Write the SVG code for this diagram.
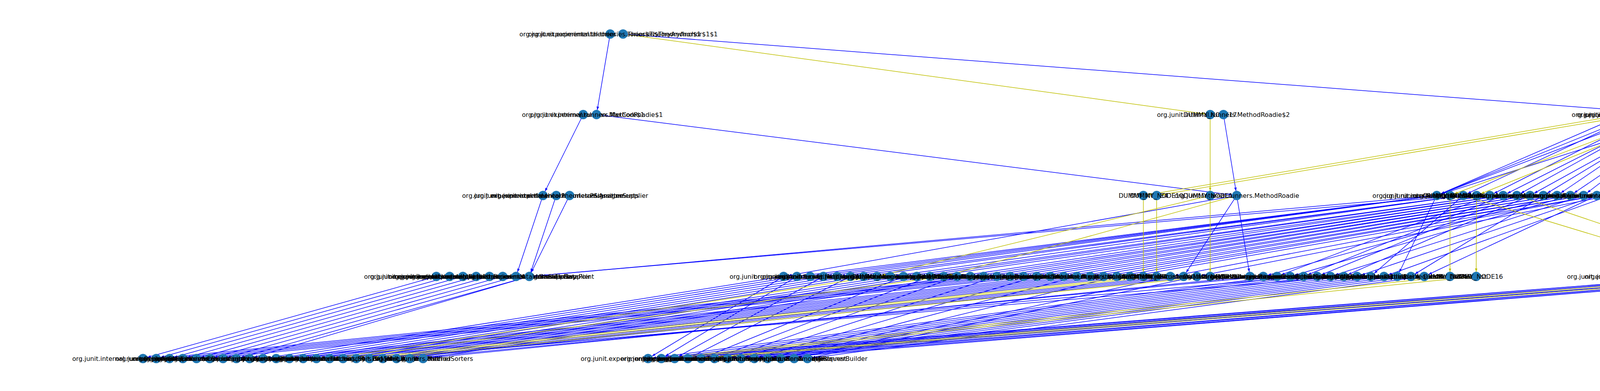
<svg xmlns="http://www.w3.org/2000/svg" width="5000" height="1000" viewBox="0 0 5000 1000">
<defs>
<style>
.n circle{fill:#1f78b4}
.n text{font-family:"DejaVu Sans","Liberation Sans",sans-serif;font-size:16px;fill:#000;text-anchor:middle;dominant-baseline:central}
.e line{stroke-width:1.5;fill:none}
.b{stroke:#0000ff;marker-end:url(#mb)}
.y{stroke:#bfbf00;marker-end:url(#my)}
</style>
<marker id="mb" markerUnits="userSpaceOnUse" viewBox="0 0 30 10" markerWidth="30" markerHeight="10" refX="20.5" refY="5" orient="auto"><path d="M0,1.8 L8.5,5 L0,8.2 Z" fill="#0000ff"/></marker>
<marker id="my" markerUnits="userSpaceOnUse" viewBox="0 0 30 10" markerWidth="30" markerHeight="10" refX="20.5" refY="5" orient="auto"><path d="M0,1.8 L8.5,5 L0,8.2 Z" fill="#bfbf00"/></marker>
</defs>
<rect width="5000" height="1000" fill="#fff"/>
<g id="edges" class="e">
<line class="b" x1="1562" y1="87" x2="1527" y2="293"/>
<line class="b" x1="1595" y1="87" x2="4293" y2="293"/>
<line class="b" x1="1493" y1="293" x2="1390" y2="500"/>
<line class="b" x1="1527" y1="293" x2="3166" y2="500"/>
<line class="b" x1="3132" y1="293" x2="3166" y2="500"/>
<line class="b" x1="4157" y1="293" x2="3678" y2="500"/>
<line class="b" x1="4191" y1="293" x2="3678" y2="500"/>
<line class="b" x1="4191" y1="293" x2="3746" y2="500"/>
<line class="b" x1="4225" y1="293" x2="3678" y2="500"/>
<line class="b" x1="4225" y1="293" x2="3814" y2="500"/>
<line class="b" x1="4259" y1="293" x2="3848" y2="500"/>
<line class="b" x1="4259" y1="293" x2="3883" y2="500"/>
<line class="b" x1="4293" y1="293" x2="3917" y2="500"/>
<line class="b" x1="4293" y1="293" x2="3951" y2="500"/>
<line class="b" x1="4293" y1="293" x2="3986" y2="500"/>
<line class="b" x1="4327" y1="293" x2="3678" y2="500"/>
<line class="b" x1="4327" y1="293" x2="4020" y2="500"/>
<line class="b" x1="4327" y1="293" x2="4054" y2="500"/>
<line class="b" x1="4327" y1="293" x2="4088" y2="500"/>
<line class="b" x1="4327" y1="293" x2="4122" y2="500"/>
<line class="b" x1="1390" y1="500" x2="1321" y2="707"/>
<line class="b" x1="1424" y1="500" x2="1355" y2="707"/>
<line class="b" x1="1458" y1="500" x2="1355" y2="707"/>
<line class="b" x1="3678" y1="500" x2="1355" y2="707"/>
<line class="b" x1="3746" y1="500" x2="1355" y2="707"/>
<line class="b" x1="3166" y1="500" x2="2006" y2="707"/>
<line class="b" x1="3166" y1="500" x2="3030" y2="707"/>
<line class="b" x1="3166" y1="500" x2="3200" y2="707"/>
<line class="b" x1="3678" y1="500" x2="2040" y2="707"/>
<line class="b" x1="3678" y1="500" x2="2074" y2="707"/>
<line class="b" x1="3678" y1="500" x2="2108" y2="707"/>
<line class="b" x1="3678" y1="500" x2="2143" y2="707"/>
<line class="b" x1="3746" y1="500" x2="2177" y2="707"/>
<line class="b" x1="3746" y1="500" x2="2211" y2="707"/>
<line class="b" x1="3746" y1="500" x2="2279" y2="707"/>
<line class="b" x1="3814" y1="500" x2="2313" y2="707"/>
<line class="b" x1="3814" y1="500" x2="2347" y2="707"/>
<line class="b" x1="3848" y1="500" x2="2381" y2="707"/>
<line class="b" x1="3848" y1="500" x2="2450" y2="707"/>
<line class="b" x1="3883" y1="500" x2="2484" y2="707"/>
<line class="b" x1="3883" y1="500" x2="2518" y2="707"/>
<line class="b" x1="3917" y1="500" x2="2552" y2="707"/>
<line class="b" x1="3917" y1="500" x2="2586" y2="707"/>
<line class="b" x1="3951" y1="500" x2="2620" y2="707"/>
<line class="b" x1="3951" y1="500" x2="2654" y2="707"/>
<line class="b" x1="3986" y1="500" x2="2689" y2="707"/>
<line class="b" x1="3986" y1="500" x2="2723" y2="707"/>
<line class="b" x1="4020" y1="500" x2="2757" y2="707"/>
<line class="b" x1="4020" y1="500" x2="2791" y2="707"/>
<line class="b" x1="4054" y1="500" x2="2825" y2="707"/>
<line class="b" x1="4054" y1="500" x2="2859" y2="707"/>
<line class="b" x1="4088" y1="500" x2="2893" y2="707"/>
<line class="b" x1="4088" y1="500" x2="2996" y2="707"/>
<line class="b" x1="4122" y1="500" x2="3064" y2="707"/>
<line class="b" x1="3986" y1="500" x2="3234" y2="707"/>
<line class="b" x1="4020" y1="500" x2="3303" y2="707"/>
<line class="b" x1="4054" y1="500" x2="3406" y2="707"/>
<line class="b" x1="4088" y1="500" x2="3474" y2="707"/>
<line class="b" x1="4122" y1="500" x2="3543" y2="707"/>
<line class="b" x1="3951" y1="500" x2="3612" y2="707"/>
<line class="b" x1="4088" y1="500" x2="3646" y2="707"/>
<line class="b" x1="3814" y1="500" x2="3269" y2="707"/>
<line class="b" x1="3848" y1="500" x2="3337" y2="707"/>
<line class="b" x1="3883" y1="500" x2="3372" y2="707"/>
<line class="b" x1="3917" y1="500" x2="3440" y2="707"/>
<line class="b" x1="3746" y1="500" x2="3509" y2="707"/>
<line class="b" x1="3678" y1="500" x2="3577" y2="707"/>
<line class="b" x1="4122" y1="500" x2="4566" y2="707"/>
<line class="b" x1="1117" y1="707" x2="366" y2="917"/>
<line class="b" x1="1151" y1="707" x2="400" y2="917"/>
<line class="b" x1="1185" y1="707" x2="434" y2="917"/>
<line class="b" x1="1219" y1="707" x2="468" y2="917"/>
<line class="b" x1="1253" y1="707" x2="503" y2="917"/>
<line class="b" x1="1287" y1="707" x2="537" y2="917"/>
<line class="b" x1="1321" y1="707" x2="571" y2="917"/>
<line class="b" x1="1355" y1="707" x2="605" y2="917"/>
<line class="b" x1="1355" y1="707" x2="639" y2="917"/>
<line class="b" x1="2006" y1="707" x2="673" y2="917"/>
<line class="b" x1="2040" y1="707" x2="707" y2="917"/>
<line class="b" x1="2074" y1="707" x2="741" y2="917"/>
<line class="b" x1="2108" y1="707" x2="776" y2="917"/>
<line class="b" x1="2143" y1="707" x2="810" y2="917"/>
<line class="b" x1="2177" y1="707" x2="844" y2="917"/>
<line class="b" x1="2211" y1="707" x2="878" y2="917"/>
<line class="b" x1="2279" y1="707" x2="912" y2="917"/>
<line class="b" x1="2313" y1="707" x2="946" y2="917"/>
<line class="b" x1="2347" y1="707" x2="980" y2="917"/>
<line class="b" x1="2381" y1="707" x2="1015" y2="917"/>
<line class="b" x1="2450" y1="707" x2="1049" y2="917"/>
<line class="b" x1="2484" y1="707" x2="1083" y2="917"/>
<line class="b" x1="2518" y1="707" x2="400" y2="917"/>
<line class="b" x1="2552" y1="707" x2="434" y2="917"/>
<line class="b" x1="2586" y1="707" x2="468" y2="917"/>
<line class="b" x1="2620" y1="707" x2="503" y2="917"/>
<line class="b" x1="2654" y1="707" x2="537" y2="917"/>
<line class="b" x1="2689" y1="707" x2="707" y2="917"/>
<line class="b" x1="2723" y1="707" x2="741" y2="917"/>
<line class="b" x1="2757" y1="707" x2="776" y2="917"/>
<line class="b" x1="2791" y1="707" x2="810" y2="917"/>
<line class="b" x1="2825" y1="707" x2="844" y2="917"/>
<line class="b" x1="2859" y1="707" x2="878" y2="917"/>
<line class="b" x1="2893" y1="707" x2="912" y2="917"/>
<line class="b" x1="2996" y1="707" x2="946" y2="917"/>
<line class="b" x1="3030" y1="707" x2="980" y2="917"/>
<line class="b" x1="3064" y1="707" x2="1015" y2="917"/>
<line class="b" x1="2006" y1="707" x2="1659" y2="917"/>
<line class="b" x1="2040" y1="707" x2="1693" y2="917"/>
<line class="b" x1="2108" y1="707" x2="1727" y2="917"/>
<line class="b" x1="2177" y1="707" x2="1761" y2="917"/>
<line class="b" x1="2313" y1="707" x2="1795" y2="917"/>
<line class="b" x1="2381" y1="707" x2="1829" y2="917"/>
<line class="b" x1="2450" y1="707" x2="1863" y2="917"/>
<line class="b" x1="2552" y1="707" x2="1897" y2="917"/>
<line class="b" x1="2654" y1="707" x2="1931" y2="917"/>
<line class="b" x1="2757" y1="707" x2="1965" y2="917"/>
<line class="b" x1="2859" y1="707" x2="1999" y2="917"/>
<line class="b" x1="2996" y1="707" x2="2033" y2="917"/>
<line class="b" x1="3064" y1="707" x2="2067" y2="917"/>
<line class="b" x1="3200" y1="707" x2="1083" y2="917"/>
<line class="b" x1="3234" y1="707" x2="1049" y2="917"/>
<line class="b" x1="3337" y1="707" x2="980" y2="917"/>
<line class="b" x1="3440" y1="707" x2="946" y2="917"/>
<line class="b" x1="3269" y1="707" x2="1659" y2="917"/>
<line class="b" x1="3303" y1="707" x2="1693" y2="917"/>
<line class="b" x1="3337" y1="707" x2="1727" y2="917"/>
<line class="b" x1="3372" y1="707" x2="1761" y2="917"/>
<line class="b" x1="3406" y1="707" x2="1795" y2="917"/>
<line class="b" x1="3440" y1="707" x2="1829" y2="917"/>
<line class="b" x1="3474" y1="707" x2="1863" y2="917"/>
<line class="b" x1="3509" y1="707" x2="1897" y2="917"/>
<line class="b" x1="3543" y1="707" x2="1931" y2="917"/>
<line class="b" x1="3577" y1="707" x2="1965" y2="917"/>
<line class="b" x1="3612" y1="707" x2="1999" y2="917"/>
<line class="b" x1="3646" y1="707" x2="2067" y2="917"/>
<line class="b" x1="4361" y1="707" x2="1659" y2="917"/>
<line class="b" x1="4361" y1="707" x2="1693" y2="917"/>
<line class="b" x1="4395" y1="707" x2="1727" y2="917"/>
<line class="b" x1="4395" y1="707" x2="1761" y2="917"/>
<line class="b" x1="4464" y1="707" x2="1795" y2="917"/>
<line class="b" x1="4464" y1="707" x2="1829" y2="917"/>
<line class="b" x1="4532" y1="707" x2="1863" y2="917"/>
<line class="b" x1="4532" y1="707" x2="1897" y2="917"/>
<line class="b" x1="4566" y1="707" x2="1931" y2="917"/>
<line class="b" x1="4566" y1="707" x2="1965" y2="917"/>
<line class="y" x1="1595" y1="87" x2="3098" y2="293"/>
<line class="y" x1="3098" y1="293" x2="3098" y2="500"/>
<line class="y" x1="3098" y1="500" x2="3098" y2="707"/>
<line class="y" x1="4157" y1="293" x2="2927" y2="500"/>
<line class="y" x1="4191" y1="293" x2="2961" y2="500"/>
<line class="y" x1="2927" y1="500" x2="2927" y2="707"/>
<line class="y" x1="2961" y1="500" x2="2961" y2="707"/>
<line class="y" x1="4259" y1="293" x2="3712" y2="500"/>
<line class="y" x1="4293" y1="293" x2="3780" y2="500"/>
<line class="y" x1="3712" y1="500" x2="3712" y2="707"/>
<line class="y" x1="3780" y1="500" x2="3779" y2="707"/>
<line class="y" x1="3746" y1="500" x2="4430" y2="707"/>
<line class="y" x1="3883" y1="500" x2="4498" y2="707"/>
<line class="y" x1="3098" y1="500" x2="2245" y2="707"/>
<line class="y" x1="3166" y1="500" x2="2416" y2="707"/>
<line class="y" x1="2245" y1="707" x2="844" y2="917"/>
<line class="y" x1="2416" y1="707" x2="878" y2="917"/>
<line class="y" x1="2927" y1="707" x2="912" y2="917"/>
<line class="y" x1="2961" y1="707" x2="946" y2="917"/>
<line class="y" x1="3098" y1="707" x2="980" y2="917"/>
<line class="y" x1="3712" y1="707" x2="1693" y2="917"/>
<line class="y" x1="3779" y1="707" x2="1727" y2="917"/>
<line class="y" x1="4430" y1="707" x2="1761" y2="917"/>
<line class="y" x1="4498" y1="707" x2="1795" y2="917"/>
</g>
<g id="nodes">
<g id="r1-1" class="n"><circle cx="1562" cy="87" r="12"/><text x="1562" y="87">org.junit.experimental.theories.Theories$TheoryAnchor$1</text></g>
<g id="r1-2" class="n"><circle cx="1595" cy="87" r="12"/><text x="1595" y="87">org.junit.experimental.theories.Theories$TheoryAnchor$1$1</text></g>
<g id="r2-1" class="n"><circle cx="1493" cy="293" r="12"/><text x="1493" y="293">org.junit.experimental.max.MaxCore$1</text></g>
<g id="r2-2" class="n"><circle cx="1527" cy="293" r="12"/><text x="1527" y="293">org.junit.internal.runners.MethodRoadie$1</text></g>
<g id="r2-3" class="n"><circle cx="3098" cy="293" r="12"/><text x="3098" y="293">DUMMY_NODE17</text></g>
<g id="r2-4" class="n"><circle cx="3132" cy="293" r="12"/><text x="3132" y="293">org.junit.internal.runners.MethodRoadie$2</text></g>
<g id="r2-5" class="n"><circle cx="4157" cy="293" r="12"/><text x="4157" y="293">org.junit.runners.model.TestClass</text></g>
<g id="r2-6" class="n"><circle cx="4191" cy="293" r="12"/><text x="4191" y="293">org.junit.runners.ParentRunner$1</text></g>
<g id="r2-7" class="n"><circle cx="4225" cy="293" r="12"/><text x="4225" y="293">org.junit.runners.ParentRunner$2</text></g>
<g id="r2-8" class="n"><circle cx="4259" cy="293" r="12"/><text x="4259" y="293">org.junit.experimental.theories.Theories$TheoryAnchor</text></g>
<g id="r2-9" class="n"><circle cx="4293" cy="293" r="12"/><text x="4293" y="293">org.junit.runners.ParentRunner$3</text></g>
<g id="r2-10" class="n"><circle cx="4327" cy="293" r="12"/><text x="4327" y="293">org.junit.runners.ParentRunner$4</text></g>
<g id="r3-1" class="n"><circle cx="1390" cy="500" r="12"/><text x="1390" y="500">org.junit.experimental.theories.ParameterSignature</text></g>
<g id="r3-2" class="n"><circle cx="1424" cy="500" r="12"/><text x="1424" y="500">org.junit.experimental.theories.internal.Assignments</text></g>
<g id="r3-3" class="n"><circle cx="1458" cy="500" r="12"/><text x="1458" y="500">org.junit.experimental.theories.ParameterSupplier</text></g>
<g id="r3-4" class="n"><circle cx="2927" cy="500" r="12"/><text x="2927" y="500">DUMMY_NODE4</text></g>
<g id="r3-5" class="n"><circle cx="2961" cy="500" r="12"/><text x="2961" y="500">DUMMY_NODE10</text></g>
<g id="r3-6" class="n"><circle cx="3098" cy="500" r="12"/><text x="3098" y="500">DUMMY_NODE18</text></g>
<g id="r3-7" class="n"><circle cx="3166" cy="500" r="12"/><text x="3166" y="500">org.junit.internal.runners.MethodRoadie</text></g>
<g id="r3-8" class="n"><circle cx="3678" cy="500" r="12"/><text x="3678" y="500">org.junit.runners.BlockJUnit4ClassRunner</text></g>
<g id="r3-9" class="n"><circle cx="3712" cy="500" r="12"/><text x="3712" y="500">DUMMY_NODE12</text></g>
<g id="r3-10" class="n"><circle cx="3746" cy="500" r="12"/><text x="3746" y="500">org.junit.internal.runners.statements.InvokeMethod</text></g>
<g id="r3-11" class="n"><circle cx="3780" cy="500" r="12"/><text x="3780" y="500">DUMMY_NODE15</text></g>
<g id="r3-12" class="n"><circle cx="3814" cy="500" r="12"/><text x="3814" y="500">org.junit.internal.runners.statements.RunBefores</text></g>
<g id="r3-13" class="n"><circle cx="3848" cy="500" r="12"/><text x="3848" y="500">org.junit.internal.runners.statements.RunAfters</text></g>
<g id="r3-14" class="n"><circle cx="3883" cy="500" r="12"/><text x="3883" y="500">org.junit.internal.runners.statements.FailOnTimeout</text></g>
<g id="r3-15" class="n"><circle cx="3917" cy="500" r="12"/><text x="3917" y="500">org.junit.internal.runners.statements.ExpectException</text></g>
<g id="r3-16" class="n"><circle cx="3951" cy="500" r="12"/><text x="3951" y="500">org.junit.internal.runners.statements.Fail</text></g>
<g id="r3-17" class="n"><circle cx="3986" cy="500" r="12"/><text x="3986" y="500">org.junit.runners.ParentRunner</text></g>
<g id="r3-18" class="n"><circle cx="4020" cy="500" r="12"/><text x="4020" y="500">org.junit.rules.RunRules</text></g>
<g id="r3-19" class="n"><circle cx="4054" cy="500" r="12"/><text x="4054" y="500">org.junit.runners.Suite</text></g>
<g id="r3-20" class="n"><circle cx="4088" cy="500" r="12"/><text x="4088" y="500">org.junit.experimental.theories.Theories</text></g>
<g id="r3-21" class="n"><circle cx="4122" cy="500" r="12"/><text x="4122" y="500">org.junit.runners.model.Statement</text></g>
<g id="r4-1" class="n"><circle cx="1117" cy="707" r="12"/><text x="1117" y="707">org.junit.experimental.theories.DataPoints</text></g>
<g id="r4-2" class="n"><circle cx="1151" cy="707" r="12"/><text x="1151" y="707">org.junit.experimental.theories.PotentialAssignment$1</text></g>
<g id="r4-3" class="n"><circle cx="1185" cy="707" r="12"/><text x="1185" y="707">org.junit.experimental.theories.FromDataPoints</text></g>
<g id="r4-4" class="n"><circle cx="1219" cy="707" r="12"/><text x="1219" y="707">org.junit.experimental.theories.PotentialAssignment</text></g>
<g id="r4-5" class="n"><circle cx="1253" cy="707" r="12"/><text x="1253" y="707">org.junit.experimental.theories.internal.EnumSupplier</text></g>
<g id="r4-6" class="n"><circle cx="1287" cy="707" r="12"/><text x="1287" y="707">org.junit.experimental.theories.internal.BooleanSupplier</text></g>
<g id="r4-7" class="n"><circle cx="1321" cy="707" r="12"/><text x="1321" y="707">org.junit.experimental.theories.Theory</text></g>
<g id="r4-8" class="n"><circle cx="1355" cy="707" r="12"/><text x="1355" y="707">org.junit.experimental.theories.DataPoint</text></g>
<g id="r4-9" class="n"><circle cx="2006" cy="707" r="12"/><text x="2006" y="707">org.junit.runner.notification.Failure</text></g>
<g id="r4-10" class="n"><circle cx="2040" cy="707" r="12"/><text x="2040" y="707">org.junit.runner.Description</text></g>
<g id="r4-11" class="n"><circle cx="2074" cy="707" r="12"/><text x="2074" y="707">org.junit.runner.Result</text></g>
<g id="r4-12" class="n"><circle cx="2108" cy="707" r="12"/><text x="2108" y="707">org.junit.runner.notification.RunNotifier</text></g>
<g id="r4-13" class="n"><circle cx="2143" cy="707" r="12"/><text x="2143" y="707">org.junit.runner.notification.RunListener</text></g>
<g id="r4-14" class="n"><circle cx="2177" cy="707" r="12"/><text x="2177" y="707">org.junit.runner.Request</text></g>
<g id="r4-15" class="n"><circle cx="2211" cy="707" r="12"/><text x="2211" y="707">org.junit.runner.Runner</text></g>
<g id="r4-16" class="n"><circle cx="2245" cy="707" r="12"/><text x="2245" y="707">DUMMY_NODE2</text></g>
<g id="r4-17" class="n"><circle cx="2279" cy="707" r="12"/><text x="2279" y="707">org.junit.runner.manipulation.Filter</text></g>
<g id="r4-18" class="n"><circle cx="2313" cy="707" r="12"/><text x="2313" y="707">org.junit.runner.manipulation.Sortable</text></g>
<g id="r4-19" class="n"><circle cx="2347" cy="707" r="12"/><text x="2347" y="707">org.junit.runner.manipulation.Filterable</text></g>
<g id="r4-20" class="n"><circle cx="2381" cy="707" r="12"/><text x="2381" y="707">org.junit.runner.manipulation.NoTestsRemainException</text></g>
<g id="r4-21" class="n"><circle cx="2416" cy="707" r="12"/><text x="2416" y="707">DUMMY_NODE3</text></g>
<g id="r4-22" class="n"><circle cx="2450" cy="707" r="12"/><text x="2450" y="707">org.junit.internal.AssumptionViolatedException</text></g>
<g id="r4-23" class="n"><circle cx="2484" cy="707" r="12"/><text x="2484" y="707">org.junit.internal.ArrayComparisonFailure</text></g>
<g id="r4-24" class="n"><circle cx="2518" cy="707" r="12"/><text x="2518" y="707">org.junit.internal.runners.model.ReflectiveCallable</text></g>
<g id="r4-25" class="n"><circle cx="2552" cy="707" r="12"/><text x="2552" y="707">org.junit.internal.runners.model.EachTestNotifier</text></g>
<g id="r4-26" class="n"><circle cx="2586" cy="707" r="12"/><text x="2586" y="707">org.junit.runners.model.FrameworkMethod</text></g>
<g id="r4-27" class="n"><circle cx="2620" cy="707" r="12"/><text x="2620" y="707">org.junit.runners.model.FrameworkField</text></g>
<g id="r4-28" class="n"><circle cx="2654" cy="707" r="12"/><text x="2654" y="707">org.junit.runners.model.FrameworkMember</text></g>
<g id="r4-29" class="n"><circle cx="2689" cy="707" r="12"/><text x="2689" y="707">org.junit.runners.model.TestTimedOutException</text></g>
<g id="r4-30" class="n"><circle cx="2723" cy="707" r="12"/><text x="2723" y="707">org.junit.runners.model.RunnerScheduler</text></g>
<g id="r4-31" class="n"><circle cx="2757" cy="707" r="12"/><text x="2757" y="707">org.junit.runner.notification.StoppedByUserException</text></g>
<g id="r4-32" class="n"><circle cx="2791" cy="707" r="12"/><text x="2791" y="707">org.junit.internal.runners.rules.RuleMemberValidator</text></g>
<g id="r4-33" class="n"><circle cx="2825" cy="707" r="12"/><text x="2825" y="707">org.junit.internal.runners.rules.RuleFieldValidator</text></g>
<g id="r4-34" class="n"><circle cx="2859" cy="707" r="12"/><text x="2859" y="707">org.junit.rules.TestRule</text></g>
<g id="r4-35" class="n"><circle cx="2893" cy="707" r="12"/><text x="2893" y="707">org.junit.rules.MethodRule</text></g>
<g id="r4-36" class="n"><circle cx="2927" cy="707" r="12"/><text x="2927" y="707">DUMMY_NODE5</text></g>
<g id="r4-37" class="n"><circle cx="2961" cy="707" r="12"/><text x="2961" y="707">DUMMY_NODE11</text></g>
<g id="r4-38" class="n"><circle cx="2996" cy="707" r="12"/><text x="2996" y="707">org.junit.internal.runners.ClassRoadie</text></g>
<g id="r4-39" class="n"><circle cx="3030" cy="707" r="12"/><text x="3030" y="707">org.junit.internal.runners.TestMethod</text></g>
<g id="r4-40" class="n"><circle cx="3064" cy="707" r="12"/><text x="3064" y="707">org.junit.internal.runners.TestClass</text></g>
<g id="r4-41" class="n"><circle cx="3098" cy="707" r="12"/><text x="3098" y="707">DUMMY_NODE19</text></g>
<g id="r4-42" class="n"><circle cx="3200" cy="707" r="12"/><text x="3200" y="707">org.junit.internal.runners.JUnit4ClassRunner</text></g>
<g id="r4-43" class="n"><circle cx="3234" cy="707" r="12"/><text x="3234" y="707">org.junit.internal.runners.FailedBefore</text></g>
<g id="r4-44" class="n"><circle cx="3269" cy="707" r="12"/><text x="3269" y="707">org.junit.internal.runners.InitializationError</text></g>
<g id="r4-45" class="n"><circle cx="3303" cy="707" r="12"/><text x="3303" y="707">org.junit.runners.Parameterized</text></g>
<g id="r4-46" class="n"><circle cx="3337" cy="707" r="12"/><text x="3337" y="707">org.junit.runners.Parameterized$TestClassRunnerForParameters</text></g>
<g id="r4-47" class="n"><circle cx="3372" cy="707" r="12"/><text x="3372" y="707">org.junit.runners.Suite$SuiteClasses</text></g>
<g id="r4-48" class="n"><circle cx="3406" cy="707" r="12"/><text x="3406" y="707">org.junit.runners.model.NoGenericTypeParametersValidator</text></g>
<g id="r4-49" class="n"><circle cx="3440" cy="707" r="12"/><text x="3440" y="707">org.junit.internal.builders.AllDefaultPossibilitiesBuilder</text></g>
<g id="r4-50" class="n"><circle cx="3474" cy="707" r="12"/><text x="3474" y="707">org.junit.internal.builders.AnnotatedBuilder</text></g>
<g id="r4-51" class="n"><circle cx="3509" cy="707" r="12"/><text x="3509" y="707">org.junit.internal.builders.JUnit4Builder</text></g>
<g id="r4-52" class="n"><circle cx="3543" cy="707" r="12"/><text x="3543" y="707">org.junit.internal.builders.JUnit3Builder</text></g>
<g id="r4-53" class="n"><circle cx="3577" cy="707" r="12"/><text x="3577" y="707">org.junit.internal.builders.IgnoredBuilder</text></g>
<g id="r4-54" class="n"><circle cx="3612" cy="707" r="12"/><text x="3612" y="707">org.junit.internal.builders.SuiteMethodBuilder</text></g>
<g id="r4-55" class="n"><circle cx="3646" cy="707" r="12"/><text x="3646" y="707">org.junit.internal.requests.ClassRequest</text></g>
<g id="r4-56" class="n"><circle cx="3712" cy="707" r="12"/><text x="3712" y="707">DUMMY_NODE14</text></g>
<g id="r4-57" class="n"><circle cx="3779" cy="707" r="12"/><text x="3779" y="707">DUMMY_NODE16</text></g>
<g id="r4-58" class="n"><circle cx="4361" cy="707" r="12"/><text x="4361" y="707">org.junit.experimental.theories.PotentialAssignment$CouldNotGenerateValueException</text></g>
<g id="r4-59" class="n"><circle cx="4395" cy="707" r="12"/><text x="4395" y="707">org.junit.experimental.theories.internal.AllMembersSupplier$MethodParameterValue</text></g>
<g id="r4-60" class="n"><circle cx="4430" cy="707" r="12"/><text x="4430" y="707">DUMMY_NODE8</text></g>
<g id="r4-61" class="n"><circle cx="4464" cy="707" r="12"/><text x="4464" y="707">org.junit.experimental.results.PrintableResult</text></g>
<g id="r4-62" class="n"><circle cx="4498" cy="707" r="12"/><text x="4498" y="707">DUMMY_NODE9</text></g>
<g id="r4-63" class="n"><circle cx="4532" cy="707" r="12"/><text x="4532" y="707">org.junit.experimental.results.ResultMatchers</text></g>
<g id="r4-64" class="n"><circle cx="4566" cy="707" r="12"/><text x="4566" y="707">org.junit.AssumptionViolatedException</text></g>
<g id="r5-1" class="n"><circle cx="366" cy="917" r="12"/><text x="366" y="917">org.junit.internal.runners.JUnit38ClassRunner</text></g>
<g id="r5-2" class="n"><circle cx="400" cy="917" r="12"/><text x="400" y="917">org.junit.Assert</text></g>
<g id="r5-3" class="n"><circle cx="434" cy="917" r="12"/><text x="434" y="917">org.junit.Assume</text></g>
<g id="r5-4" class="n"><circle cx="468" cy="917" r="12"/><text x="468" y="917">org.junit.ComparisonFailure</text></g>
<g id="r5-5" class="n"><circle cx="503" cy="917" r="12"/><text x="503" y="917">org.junit.ComparisonFailure$ComparisonCompactor</text></g>
<g id="r5-6" class="n"><circle cx="537" cy="917" r="12"/><text x="537" y="917">org.junit.internal.ComparisonCriteria</text></g>
<g id="r5-7" class="n"><circle cx="571" cy="917" r="12"/><text x="571" y="917">org.junit.internal.ExactComparisonCriteria</text></g>
<g id="r5-8" class="n"><circle cx="605" cy="917" r="12"/><text x="605" y="917">org.junit.internal.InexactComparisonCriteria</text></g>
<g id="r5-9" class="n"><circle cx="639" cy="917" r="12"/><text x="639" y="917">org.junit.internal.Throwables</text></g>
<g id="r5-10" class="n"><circle cx="673" cy="917" r="12"/><text x="673" y="917">org.junit.internal.Classes</text></g>
<g id="r5-11" class="n"><circle cx="707" cy="917" r="12"/><text x="707" y="917">org.junit.internal.TextListener</text></g>
<g id="r5-12" class="n"><circle cx="741" cy="917" r="12"/><text x="741" y="917">org.junit.internal.RealSystem</text></g>
<g id="r5-13" class="n"><circle cx="776" cy="917" r="12"/><text x="776" y="917">org.junit.internal.JUnitSystem</text></g>
<g id="r5-14" class="n"><circle cx="810" cy="917" r="12"/><text x="810" y="917">org.junit.internal.MethodSorter</text></g>
<g id="r5-15" class="n"><circle cx="844" cy="917" r="12"/><text x="844" y="917">org.junit.internal.matchers.ThrowableMessageMatcher</text></g>
<g id="r5-16" class="n"><circle cx="878" cy="917" r="12"/><text x="878" y="917">org.junit.internal.matchers.TypeSafeMatcher</text></g>
<g id="r5-17" class="n"><circle cx="912" cy="917" r="12"/><text x="912" y="917">org.junit.internal.matchers.StacktracePrintingMatcher</text></g>
<g id="r5-18" class="n"><circle cx="946" cy="917" r="12"/><text x="946" y="917">org.junit.internal.matchers.ThrowableCauseMatcher</text></g>
<g id="r5-19" class="n"><circle cx="980" cy="917" r="12"/><text x="980" y="917">org.junit.FixMethodOrder</text></g>
<g id="r5-20" class="n"><circle cx="1015" cy="917" r="12"/><text x="1015" y="917">org.junit.Ignore</text></g>
<g id="r5-21" class="n"><circle cx="1049" cy="917" r="12"/><text x="1049" y="917">org.junit.Test</text></g>
<g id="r5-22" class="n"><circle cx="1083" cy="917" r="12"/><text x="1083" y="917">org.junit.runners.MethodSorters</text></g>
<g id="r5-23" class="n"><circle cx="1659" cy="917" r="12"/><text x="1659" y="917">org.junit.experimental.categories.Category</text></g>
<g id="r5-24" class="n"><circle cx="1693" cy="917" r="12"/><text x="1693" y="917">org.junit.runner.Computer</text></g>
<g id="r5-25" class="n"><circle cx="1727" cy="917" r="12"/><text x="1727" y="917">org.junit.runner.JUnitCore</text></g>
<g id="r5-26" class="n"><circle cx="1761" cy="917" r="12"/><text x="1761" y="917">org.junit.runner.Describable</text></g>
<g id="r5-27" class="n"><circle cx="1795" cy="917" r="12"/><text x="1795" y="917">org.junit.runner.FilterFactory</text></g>
<g id="r5-28" class="n"><circle cx="1829" cy="917" r="12"/><text x="1829" y="917">org.junit.runner.manipulation.Sorter</text></g>
<g id="r5-29" class="n"><circle cx="1863" cy="917" r="12"/><text x="1863" y="917">org.junit.runner.notification.RunListener$ThreadSafe</text></g>
<g id="r5-30" class="n"><circle cx="1897" cy="917" r="12"/><text x="1897" y="917">org.junit.runner.notification.SynchronizedRunListener</text></g>
<g id="r5-31" class="n"><circle cx="1931" cy="917" r="12"/><text x="1931" y="917">org.junit.runner.RunWith</text></g>
<g id="r5-32" class="n"><circle cx="1965" cy="917" r="12"/><text x="1965" y="917">org.junit.internal.requests.FilterRequest</text></g>
<g id="r5-33" class="n"><circle cx="1999" cy="917" r="12"/><text x="1999" y="917">org.junit.internal.requests.SortingRequest</text></g>
<g id="r5-34" class="n"><circle cx="2033" cy="917" r="12"/><text x="2033" y="917">org.junit.runners.AllTests</text></g>
<g id="r5-35" class="n"><circle cx="2067" cy="917" r="12"/><text x="2067" y="917">org.junit.runners.model.RunnerBuilder</text></g>
</g>
</svg>
